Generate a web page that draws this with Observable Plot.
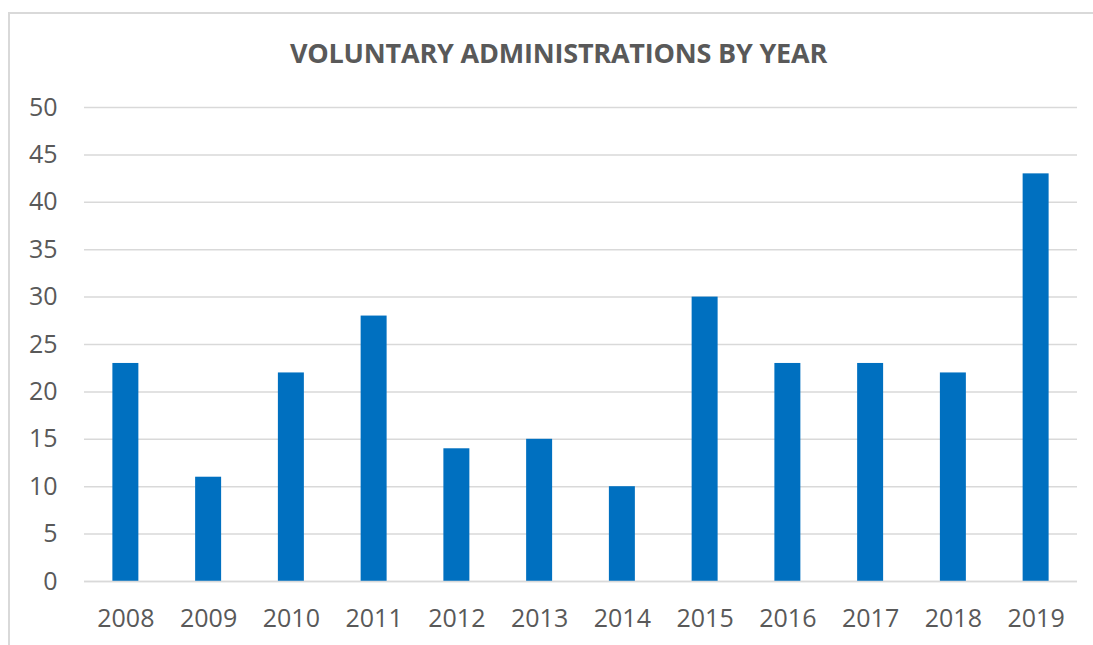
<!DOCTYPE html>
<html>
<head>
<meta charset="utf-8">
<script src="https://cdn.jsdelivr.net/npm/d3@7"></script>
<script src="https://cdn.jsdelivr.net/npm/@observablehq/plot@0.6"></script>
<style>
  html, body { margin: 0; padding: 0; background: #fff; overflow: hidden; }
  #wrap { position: relative; width: 1093px; height: 645px; }
  #frame { position: absolute; left: 8px; top: 12px; width: 1200px; height: 800px; border: 2px solid #d9d9d9; box-sizing: border-box; }
  #title { position: absolute; left: 0; width: 1117px; top: 34px; text-align: center; font-family: "Open Sans", sans-serif; font-weight: bold; font-size: 27px; color: #595959; letter-spacing: -0.2px; }
  #chart { position: absolute; left: 0; top: 0; }
</style>
</head>
<body>
<div id="wrap">
  <div id="frame"></div>
  <div id="chart"></div>
  <div id="title">VOLUNTARY ADMINISTRATIONS BY YEAR</div>
</div>
<script>
const years = ["2008","2009","2010","2011","2012","2013","2014","2015","2016","2017","2018","2019"];
const counts = [23, 11, 22, 28, 14, 15, 10, 30, 23, 23, 22, 43];
const yTicks = [0, 5, 10, 15, 20, 25, 30, 35, 40, 45, 50];

const data = years.map((y, i) => ({year: y, count: counts[i]}));

const chart = Plot.plot({
  width: 1093,
  height: 645,
  marginLeft: 84,
  marginRight: 16,
  marginTop: 107,
  marginBottom: 64,
  style: {fontFamily: "'Open Sans', sans-serif", fontSize: "25px", color: "#595959", background: "transparent"},
  x: {domain: years, paddingInner: 0.686, paddingOuter: 0.343, round: false, label: null, tickSize: 0, tickPadding: 28},
  y: {domain: [0, 50], ticks: yTicks, label: null, tickSize: 0, tickPadding: 27},
  marks: [
    Plot.gridY(yTicks, {stroke: "#d9d9d9", strokeOpacity: 1, strokeWidth: 1.5}),
    Plot.barY(data, {x: "year", y: "count", fill: "#0070C0"}),
    Plot.ruleY([0], {stroke: "#d9d9d9", strokeWidth: 1.5})
  ]
});
document.getElementById("chart").appendChild(chart);
</script>
</body>
</html>
